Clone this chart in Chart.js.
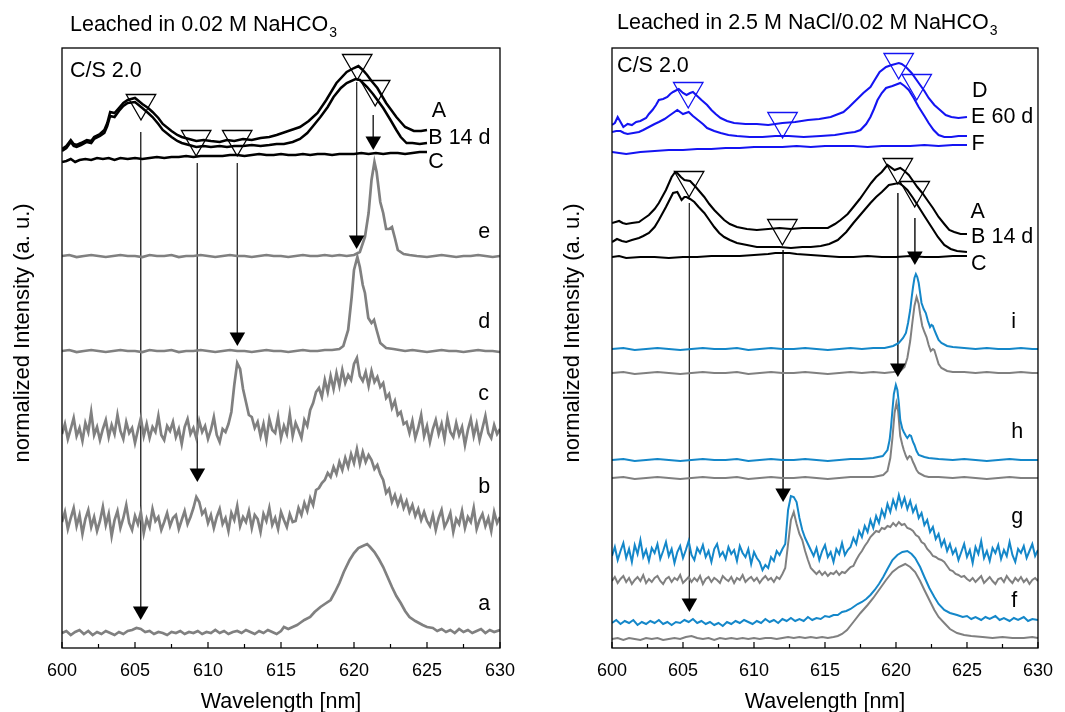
<!DOCTYPE html>
<html>
<head>
<meta charset="utf-8">
<script src="https://cdn.jsdelivr.net/npm/chart.js@4.4.1/dist/chart.umd.min.js"></script>
<style>
  html, body { margin: 0; padding: 0; background: #fff; }
  #wrap { position: relative; width: 1065px; height: 712px; overflow: hidden; }
  canvas { position: absolute; top: 0; }
  #panelLeft { left: 0; }
  #panelRight { left: 532px; }
</style>
</head>
<body>
<div id="wrap">
  <canvas id="panelLeft" width="532" height="712"></canvas>
  <canvas id="panelRight" width="533" height="712"></canvas>
</div>
<script>
// x axis: wavelength in nm, y: stacked normalized intensity (offset units, 0..600)
const majorTicks = [600, 605, 610, 615, 620, 625, 630];
const minorTicks = [602.5, 607.5, 612.5, 617.5, 622.5, 627.5];

// noisy spectra are sampled on a 0.2 nm grid starting at 600 nm
const gridStart = 600;
const gridStep = 0.2;

// ---------- Leached in 0.02 M NaHCO3 ----------
const leftA = [[600,499],[600.3,502],[600.6,508],[600.8,504],[601.0,503],[601.3,505],[601.7,508],[602.0,507],[602.2,511],[602.6,514],[602.9,518],[603.1,525],[603.3,536],[603.6,535],[603.9,540],[604.2,545],[604.5,548],[605.0,550],[605.5,544],[605.9,540],[606.2,536],[606.6,530],[606.9,524],[607.5,517],[607.9,513],[608.2,511],[608.7,509],[609.2,507],[609.7,508],[610.2,507],[610.8,506],[611.3,508],[611.8,507],[612.4,509],[613.0,508],[613.6,510],[614.2,511],[614.7,513],[615.1,515],[615.7,518],[616.3,521],[616.9,527],[617.5,535],[618.1,548],[618.8,565],[619.5,576],[620.0,580],[620.3,582],[620.6,578],[620.9,573],[621.2,567],[621.6,560],[622.2,545],[622.9,531],[623.5,521],[624.1,517],[624.6,517],[625.0,518]];
const leftB = [[600,497],[600.3,500],[600.6,506],[600.8,502],[601.0,501],[601.3,503],[601.7,506],[602.0,505],[602.2,509],[602.6,512],[602.9,515],[603.1,522],[603.3,532],[603.6,531],[603.9,537],[604.2,542],[604.5,545],[605.0,546],[605.5,540],[605.9,535],[606.2,531],[606.6,524],[606.9,518],[607.5,511],[607.9,507],[608.2,505],[608.7,503],[609.2,501],[609.7,502],[610.2,501],[610.8,502],[611.3,501],[611.8,502],[612.4,502],[613.0,503],[613.6,502],[614.2,503],[614.7,504],[615.2,504],[615.8,506],[616.3,509],[616.8,515],[617.2,522],[617.7,531],[618.2,541],[618.6,551],[619.1,560],[619.5,565],[620.1,569],[620.4,568],[620.9,561],[621.3,554],[621.6,548],[622.0,540],[622.5,528],[622.9,518],[623.2,511],[623.6,505],[624.0,505],[624.5,504],[625.0,505]];
const leftC = [[600,486],[600.3,487],[600.6,489],[600.9,486],[601.2,488],[601.6,489],[602,488],[602.4,490],[602.8,489],[603.2,490],[603.6,488],[604,490],[604.5,489],[605,490],[605.5,489],[606,490],[606.5,491],[607,490],[607.5,491],[608,491],[608.5,492],[609,491],[609.5,492],[610,492],[610.5,492],[611,492],[611.5,493],[612,493],[612.5,492],[613,493],[613.5,494],[614,493],[614.5,493],[615,494],[615.5,493],[616,493],[616.5,494],[617,493],[617.5,494],[618,494],[618.5,493],[619,494],[619.5,494],[620,494],[620.5,495],[621,494],[621.5,495],[622,494],[622.5,495],[623,495],[623.5,494],[624,495],[624.5,496],[625,496]];
const leftE = [[600,392],[600.5,393],[601,391],[601.5,392],[602,393],[602.5,392],[603,391],[603.5,392],[604,393],[604.5,392],[605,392],[605.5,391],[606,393],[606.5,392],[607,392],[607.5,393],[608,391],[608.5,392],[609,392],[609.5,393],[610,392],[610.5,391],[611,392],[611.5,393],[612,392],[612.5,392],[613,391],[613.5,392],[614,393],[614.5,392],[615,392],[615.5,391],[616,392],[616.5,393],[617,392],[617.5,392],[618,393],[618.5,392],[619,393],[619.5,392],[620,393],[620.4,396],[620.75,411],[621.0,435],[621.2,468],[621.4,486],[621.55,476],[621.8,446],[622.0,435],[622.2,419],[622.4,419],[622.6,421],[622.8,410],[623.0,398],[623.4,394],[623.8,393],[624.3,392],[625,391],[625.5,392],[626,393],[626.5,392],[627,391],[627.5,392],[628,392],[628.5,393],[629,392],[629.5,391],[630,392]];
const leftD = [[600,297],[600.5,298],[601,296],[601.5,297],[602,298],[602.5,297],[603,296],[603.5,297],[604,298],[604.5,297],[605,297],[605.5,296],[606,298],[606.5,297],[607,297],[607.5,298],[608,296],[608.5,297],[609,297],[609.5,298],[610,297],[610.5,296],[611,297],[611.5,298],[612,297],[612.5,297],[613,296],[613.5,297],[614,298],[614.5,297],[615,297],[615.5,296],[616,297],[616.5,298],[617,297],[617.5,297],[618,298],[618.5,298],[619.0,299],[619.27,302],[619.6,318],[619.84,351],[620.0,378],[620.23,391],[620.4,381],[620.6,363],[620.75,355],[620.98,330],[621.2,325],[621.37,328],[621.55,318],[621.8,305],[622.2,300],[622.7,299],[623.1,298],[623.5,297],[624,298],[624.5,297],[625,296],[625.5,297],[626,298],[626.5,297],[627,297],[627.5,296],[628,297],[628.5,298],[629,297],[629.5,297],[630,296]];
const leftCnoisy = [
  214,224,209,219,230,212,220,207,225,216,236,213,221,208,219,228,211,223,214,233,
  217,209,226,215,220,205,218,230,212,224,210,221,216,232,213,208,222,217,226,211,
  219,204,221,229,214,220,210,227,216,222,209,218,231,213,206,219,216,
  224,236,263,285,279,259,246,233,231,220,
  226,212,224,208,229,218,215,231,210,222,214,234,212,225,218,210,228,222,
  238,245,256,260,251,268,256,272,259,275,262,278,265,273,268,284,290,272,267,276,
  262,277,266,271,261,265,250,254,240,247,233,236,224,226,
  215,227,210,220,233,212,222,206,219,228,214,224,209,230,216,211,225,213,221,203,
  218,229,212,224,208,220,232,215,210,223,214,219
];
const leftBnoisy = [
  126,136,119,130,140,122,133,114,129,138,121,131,117,127,141,123,134,112,128,137,
  120,130,143,125,118,132,124,136,115,129,121,139,127,131,118,126,135,122,130,133,
  119,128,137,124,131,
  140,151,146,134,
  138,125,133,120,131,139,124,130,117,135,128,142,122,131,126,137,120,133,129,116,
  134,127,140,123,130,119,136,128,121,134,126,
  127,140,133,145,137,150,143,158,160,165,168,175,171,181,174,186,178,190,181,194,
  185,199,184,196,186,193,188,179,183,174,168,155,159,146,153,143,151,140,147,136,
  143,132,139,128,136,127,
  122,133,118,130,138,121,127,135,116,129,124,137,120,131,126,140,119,128,134,122,
  130,117,136,125,131
];
const leftAsmall = [[600,15],[600.3,17],[600.6,13],[600.9,16],[601.2,18],[601.5,14],[601.8,17],[602.1,13],[602.4,16],[602.7,14],[603,17],[603.3,15],[603.6,13],[603.9,16],[604.2,14],[604.5,17],[604.8,18],[605.1,20],[605.4,19],[605.7,16],[606,17],[606.3,14],[606.6,16],[606.9,15],[607.2,13],[607.5,16],[607.8,15],[608.1,17],[608.4,14],[608.7,16],[609,15],[609.3,17],[609.6,14],[609.9,16],[610.2,15],[610.5,18],[610.8,15],[611.1,17],[611.4,14],[611.7,16],[612,17],[612.3,15],[612.6,18],[612.9,16],[613.2,14],[613.5,17],[613.8,15],[614.1,18],[614.4,16],[614.7,14],[615.0,17],[615.2,21],[615.5,19],[615.8,21],[616.1,23],[616.3,25],[616.6,28],[617.0,31],[617.3,36],[617.7,41],[618.0,44],[618.4,48],[618.7,56],[619.0,65],[619.3,76],[619.7,88],[620.0,95],[620.3,100],[620.6,102],[620.9,104],[621.1,101],[621.4,96],[621.7,89],[622.0,81],[622.3,71],[622.6,61],[622.9,52],[623.2,45],[623.5,37],[623.8,31],[624.2,27],[624.7,23],[625.0,21],[625.4,20],[625.7,17],[626,19],[626.3,16],[626.6,18],[626.9,15],[627.2,19],[627.5,16],[627.8,18],[628.1,15],[628.4,17],[628.7,19],[629,15],[629.3,18],[629.6,16],[630,18]];

// open markers [nm, level] and arrows [nm, start level, head level]
const leftMarks = [[605.41,545],[609.19,509],[612.0,509],[620.22,585],[621.45,559]];
const leftArrows = [[605.39,516,37],[609.27,485,175],[612.01,485,311],[620.18,566,408],[621.32,533,507]];

// ---------- Leached in 2.5 M NaCl/0.02 M NaHCO3 ----------
const rightD = [[600,523],[600.2,525],[600.4,531],[600.6,526],[600.8,521],[601.1,524],[601.4,523],[601.7,526],[602.0,527],[602.4,530],[602.6,534],[602.85,538],[603.1,543],[603.3,548],[603.6,549],[603.9,551],[604.1,554],[604.3,556],[604.7,559],[605.0,555],[605.25,553],[605.5,555],[605.7,556],[606.0,552],[606.3,548],[606.7,543],[607.0,538],[607.3,534],[607.65,530],[608.1,527],[608.6,525],[609.4,524],[610.2,524],[611.0,523],[612.0,525],[612.9,526],[613.8,528],[614.6,529],[615.4,531],[616.3,536],[616.7,541],[617.2,548],[617.7,555],[618.2,561],[618.5,568],[618.85,576],[619.3,581],[619.7,583],[620.2,585],[620.4,584],[620.7,581],[621.1,575],[621.6,565],[622.0,557],[622.3,550],[622.7,543],[623.1,538],[623.5,533],[623.9,531],[624.4,530],[625.0,531]];
const rightE = [[600,516],[600.3,517],[600.6,517],[600.85,515],[601.1,514],[601.5,515],[601.9,516],[602.2,518],[602.6,521],[603.0,524],[603.3,526],[603.7,529],[604.0,532],[604.3,535],[604.6,538],[605.0,534],[605.4,536],[605.7,532],[606.05,528],[606.4,524],[606.7,520],[607.2,517],[607.65,515],[608.2,513],[608.8,512],[609.7,511],[610.6,511],[611.5,512],[612.45,512],[613.5,511],[614.7,512],[615.7,513],[616.55,515],[617.1,516],[617.5,518],[617.9,524],[618.2,531],[618.45,539],[618.7,548],[619.0,555],[619.3,560],[619.75,562],[620.3,565],[620.6,562],[620.9,558],[621.25,550],[621.6,541],[622.0,532],[622.3,525],[622.65,518],[623.0,513],[623.4,511],[623.9,511],[624.4,512],[625.0,512]];
const rightF = [[600,496],[600.5,495],[601,494],[601.5,495],[602,496],[603,497],[604,498],[605,498],[606,499],[607,499],[608,500],[609,500],[610,501],[611,501],[612,501],[613,502],[614,501],[615,502],[616,502],[617,502],[618,501],[619,502],[620,502],[621,502],[622,503],[623,502],[624,503],[625,503]];
const rightA = [[600,425],[600.25,426],[600.5,427],[600.75,425],[601.0,424],[601.4,425],[601.9,426],[602.2,429],[602.6,433],[603.0,439],[603.3,445],[603.8,458],[604.2,471],[604.45,476],[604.6,475],[604.85,471],[605.1,468],[605.5,467],[605.9,461],[606.2,456],[606.5,451],[606.85,444],[607.2,438],[607.55,433],[607.9,428],[608.3,424],[608.8,421],[609.5,419],[610.2,418],[611.0,419],[611.8,420],[612.6,419],[613.4,420],[614.3,420],[615.2,420],[615.7,424],[616.1,428],[616.6,434],[617.0,441],[617.45,449],[617.9,458],[618.25,465],[618.6,471],[619.0,476],[619.4,483],[619.9,478],[620.3,480],[620.6,477],[620.9,473],[621.2,467],[621.5,461],[621.85,455],[622.2,448],[622.6,440],[623.0,431],[623.4,424],[623.75,418],[624.1,416],[624.55,414],[625.0,414]];
const rightB = [[600,406],[600.35,409],[600.7,407],[601.0,406],[601.4,408],[601.9,410],[602.2,412],[602.6,415],[603.0,421],[603.3,428],[603.8,441],[604.3,455],[604.6,456],[604.9,448],[605.1,451],[605.25,451],[605.5,449],[605.8,446],[606.1,441],[606.5,435],[606.85,428],[607.2,421],[607.55,415],[607.9,411],[608.3,408],[608.8,405],[609.5,403],[610.2,401],[611.0,401],[611.8,401],[612.6,400],[613.4,401],[614.0,401],[614.7,402],[615.3,404],[615.9,408],[616.5,416],[617.0,425],[617.6,435],[618.2,445],[618.6,451],[619.0,456],[619.5,463],[620.2,465],[620.5,462],[620.8,458],[621.2,450],[621.6,441],[622.0,432],[622.5,421],[622.95,411],[623.4,403],[623.85,399],[624.3,397],[625.0,396]];
const rightC = [[600,391],[600.5,392],[601,390],[602,391],[603,391],[604,390],[605,391],[606,391],[607,392],[608,392],[609,392],[610,393],[611,394],[611.5,395],[612,395],[612.5,395],[613,394],[614,393],[615,392],[616,391],[617,391],[618,392],[619,391],[620,391],[621,392],[622,391],[623,391],[624,392],[625,392]];
const rightIblue = [[600,299],[600.8,300],[601.6,298],[602.4,299],[603.2,300],[604,299],[604.8,298],[605.6,299],[606.4,300],[607.2,299],[608,299],[608.8,300],[609.6,298],[610.4,299],[611.2,300],[612,299],[612.8,299],[613.6,300],[614.4,299],[615.2,298],[616,299],[616.8,300],[617.6,299],[618.4,300],[619.2,300],[619.8,302],[620.2,305],[620.5,310],[620.7,315],[620.85,325],[621.0,338],[621.1,350],[621.2,361],[621.3,370],[621.4,374],[621.5,371],[621.6,365],[621.7,355],[621.8,345],[621.95,339],[622.1,335],[622.25,327],[622.4,321],[622.5,323],[622.6,322],[622.7,318],[622.85,313],[623.0,308],[623.2,305],[623.6,302],[624.0,301],[624.8,300],[625.6,299],[626.4,300],[627.2,299],[628,299],[628.8,300],[629.6,299],[630,299]];
const rightIgray = [[600,275],[600.8,276],[601.6,274],[602.4,275],[603.2,276],[604,275],[604.8,274],[605.6,275],[606.4,276],[607.2,275],[608,275],[608.8,276],[609.6,274],[610.4,275],[611.2,276],[612,275],[612.8,275],[613.6,276],[614.4,275],[615.2,274],[616,275],[616.8,276],[617.6,275],[618.4,276],[619.2,275],[619.8,276],[620.3,277],[620.6,281],[620.8,290],[621.0,307],[621.15,325],[621.3,342],[621.45,351],[621.6,344],[621.7,334],[621.85,322],[622.0,316],[622.15,311],[622.3,303],[622.45,297],[622.6,299],[622.7,298],[622.85,291],[623.0,284],[623.2,280],[623.6,277],[624.0,276],[624.8,276],[625.6,275],[626.4,276],[627.2,275],[628,275],[628.8,276],[629.6,275],[630,275]];
const rightHblue = [[600,188],[600.8,189],[601.6,187],[602.4,188],[603.2,189],[604,188],[604.8,187],[605.6,188],[606.4,189],[607.2,188],[608,188],[608.8,189],[609.6,187],[610.4,188],[611.2,189],[612,188],[612.8,188],[613.6,189],[614.4,188],[615.2,187],[616,188],[616.8,189],[617.6,189],[618.4,190],[619.07,192],[619.4,198],[619.55,208],[619.65,221],[619.75,238],[619.85,254],[619.99,263],[620.1,258],[620.2,245],[620.3,228],[620.45,219],[620.55,216],[620.7,212],[620.8,210],[620.95,213],[621.06,212],[621.2,206],[621.3,203],[621.45,197],[621.6,193],[622.0,191],[622.3,190],[623,189],[624,188],[624.8,189],[625.6,188],[626.4,187],[627.2,188],[628,189],[628.8,188],[629.6,188],[630,188]];
const rightHgray = [[600,170],[600.8,171],[601.6,169],[602.4,170],[603.2,171],[604,170],[604.8,169],[605.6,170],[606.4,171],[607.2,170],[608,170],[608.8,171],[609.6,169],[610.4,170],[611.2,171],[612,170],[612.8,170],[613.6,171],[614.4,170],[615.2,169],[616,170],[616.8,171],[617.6,171],[618.4,171],[619.1,173],[619.4,177],[619.6,190],[619.75,210],[619.9,235],[620.03,245],[620.15,237],[620.3,212],[620.45,203],[620.55,198],[620.7,192],[620.8,189],[620.95,192],[621.06,191],[621.2,186],[621.3,183],[621.45,178],[621.6,175],[622.0,172],[622.3,171],[623,171],[624,170],[624.8,171],[625.6,170],[626.4,169],[627.2,170],[628,171],[628.8,170],[629.6,170],[630,170]];
const rightGblue = [
  92,101,88,97,105,90,99,86,103,94,108,91,98,87,100,95,104,89,97,106,
  92,99,85,96,102,90,98,107,93,88,100,95,103,91,97,86,99,104,92,96,
  89,101,94,98,87,102,95,91,99,84,96,90,86,78,83,80,91,87,97,93,99,
  104,138,152,151,146,130,118,110,104,98,
  92,100,88,97,103,91,96,86,99,94,105,93,98,101,
  110,104,117,111,122,116,128,120,132,125,138,131,144,136,148,140,153,142,150,139,
  147,136,142,130,135,123,128,116,121,109,114,102,108,97,104,94,
  99,88,96,104,91,98,85,101,94,107,90,97,87,100,95,103,89,98,92,106,
  93,86,99,95,102,90,97,104,92,98
];
const rightGgray = [
  67,71,65,69,72,66,70,64,68,71,67,73,65,69,66,70,72,67,64,69,
  71,66,70,68,73,65,68,71,66,70,67,72,64,69,71,66,70,68,65,72,
  69,67,71,65,70,68,73,66,69,71,67,70,65,69,72,68,70,66,71,69,74,
  80,104,128,136,124,114,108,97,88,80,77,
  74,77,73,76,72,75,74,77,73,76,75,78,81,
  82,88,93,97,102,106,111,114,117,116,120,119,122,121,125,122,126,123,124,120,
  119,117,113,111,106,104,99,96,92,91,89,88,86,82,78,77,74,73,71,72,69,
  67,70,66,69,72,65,68,71,67,64,69,70,66,72,68,65,70,67,71,66,
  69,64,68,70,67
];
const rightFblue = [[600,25],[600.3,28],[600.6,24],[600.9,27],[601.2,25],[601.5,28],[601.8,23],[602.1,26],[602.4,24],[602.7,27],[603,25],[603.3,28],[603.6,24],[603.9,26],[604.2,23],[604.5,26],[604.8,25],[605.1,28],[605.4,26],[605.7,29],[606,25],[606.3,27],[606.6,24],[606.9,26],[607.2,23],[607.5,25],[607.8,22],[608.1,26],[608.4,24],[608.7,27],[609,25],[609.3,28],[609.6,26],[609.9,24],[610.2,27],[610.5,25],[610.8,29],[611.1,26],[611.4,28],[611.7,25],[612,29],[612.3,27],[612.6,30],[612.9,27],[613.2,29],[613.5,27],[613.8,31],[614.1,28],[614.4,30],[614.7,29],[615.0,32],[615.3,31],[615.6,33],[615.9,33],[616.2,36],[616.5,37],[616.8,39],[617.0,41],[617.3,44],[617.6,46],[617.9,49],[618.2,53],[618.5,58],[618.8,64],[619.1,71],[619.4,79],[619.75,88],[620.1,93],[620.45,96],[620.8,97],[621.1,94],[621.35,90],[621.7,81],[622.0,71],[622.35,60],[622.7,51],[623.0,44],[623.4,38],[623.8,35],[624.3,33],[624.7,31],[625.0,32],[625.3,29],[625.6,31],[626.0,28],[626.3,31],[626.6,29],[627.0,32],[627.3,28],[627.6,30],[628.0,27],[628.3,30],[628.6,28],[629.0,31],[629.3,27],[629.6,29],[630,28]];
const rightFgray = [[600,9],[600.4,10],[600.8,8],[601.2,10],[601.6,9],[602,8],[602.4,10],[602.8,9],[603.2,10],[603.6,8],[604,9],[604.4,10],[604.8,9],[605.2,11],[605.6,12],[606,10],[606.4,9],[606.8,10],[607.2,8],[607.6,10],[608,9],[608.4,10],[608.8,9],[609.2,10],[609.6,9],[610,10],[610.4,9],[610.8,10],[611.2,10],[611.6,9],[612,10],[612.4,11],[612.8,10],[613.2,11],[613.6,10],[614,11],[614.4,10],[614.8,11],[615.2,10],[615.6,11],[615.9,12],[616.2,14],[616.55,18],[617.0,26],[617.5,35],[618.0,43],[618.4,50],[618.8,58],[619.3,68],[619.75,76],[620.2,81],[620.65,84],[621.0,81],[621.35,76],[621.7,67],[622.0,58],[622.35,48],[622.7,38],[623.0,31],[623.4,25],[623.8,19],[624.3,15],[624.8,13],[625.3,12],[626.1,11],[626.8,10],[627.5,11],[628.2,10],[629,10],[629.6,11],[630,10]];

const rightBlueMarks = [[605.37,557],[612.01,527],[620.19,586],[621.46,565]];
const rightBlackMarks = [[605.43,468],[612.0,420],[620.13,481],[621.32,458]];
const rightArrows = [[605.45,445,45],[612.05,398,155],[620.13,455,280],[621.33,430,392]];

const FONT = '"Liberation Sans", Arial, Helvetica, sans-serif';
const GRAY = '#808080';
const BLACK = '#000000';
const DEEP_BLUE = '#1414f2';
const SKY_BLUE = '#1487c9';

const pairs = arr => arr.map(([x, y]) => ({x, y}));
const onGrid = arr => arr.map((y, i) => ({x: +(gridStart + i * gridStep).toFixed(1), y}));

function trace(data, color, width) {
  return {type: 'line', data, borderColor: color, borderWidth: width,
    pointRadius: 0, fill: false, tension: 0, order: 2};
}

function openMarks(list, color) {
  return {type: 'scatter', data: pairs(list), pointStyle: 'triangle', rotation: 180,
    pointRadius: 17, borderColor: color, borderWidth: 1.3,
    backgroundColor: 'rgba(0,0,0,0)', order: 1};
}

function arrowSets(list) {
  const sets = list.map(([nm, from, head]) => ({
    type: 'line', data: [{x: nm, y: from}, {x: nm, y: head}],
    borderColor: '#333', borderWidth: 1, pointRadius: 0, order: 3
  }));
  sets.push({type: 'scatter', data: list.map(([nm, , head]) => ({x: nm, y: head})),
    pointStyle: 'triangle', rotation: 180, pointRadius: 9,
    backgroundColor: '#000', borderColor: '#000', borderWidth: 0, order: 0});
  return sets;
}

// frame, inward ticks and all the text drawn on top of the plot
const panelDecor = {
  id: 'panelDecor',
  afterDraw(chart, args, o) {
    const {ctx, chartArea: a, scales: {x, y}} = chart;
    ctx.save();
    ctx.strokeStyle = '#000';
    ctx.lineWidth = 1.3;
    ctx.strokeRect(a.left, a.top, a.right - a.left, a.bottom - a.top);
    ctx.lineWidth = 1.2;
    majorTicks.concat(minorTicks).forEach(v => {
      const px = x.getPixelForValue(v);
      const len = majorTicks.includes(v) ? 6 : 4;
      ctx.beginPath();
      ctx.moveTo(px, a.bottom);
      ctx.lineTo(px, a.bottom - len);
      ctx.stroke();
    });

    ctx.fillStyle = '#000';
    ctx.textAlign = 'left';
    ctx.textBaseline = 'alphabetic';
    ctx.font = '21.5px ' + FONT;
    o.labels.forEach(([text, nm, level]) => {
      ctx.fillText(text, x.getPixelForValue(nm), y.getPixelForValue(level));
    });

    // panel title with subscript
    const tx = a.left + o.titleDx;
    ctx.fillText(o.title, tx, o.titleY);
    const w = ctx.measureText(o.title).width;
    ctx.font = '14px ' + FONT;
    ctx.fillText('3', tx + w + 1, o.titleY + 6.5);

    // axis titles
    ctx.font = '21.5px ' + FONT;
    ctx.textAlign = 'center';
    ctx.fillText('Wavelength [nm]', (a.left + a.right) / 2, 708);
    ctx.font = '22px ' + FONT;
    ctx.translate(o.yTitleX, 333);
    ctx.rotate(-Math.PI / 2);
    ctx.fillText('normalized Intensity (a. u.)', 0, 0);
    ctx.restore();
  }
};

function makePanel(id, datasets, padding, decor) {
  return new Chart(document.getElementById(id), {
    data: {datasets},
    plugins: [panelDecor],
    options: {
      responsive: false,
      animation: false,
      events: [],
      layout: {padding},
      plugins: {legend: {display: false}, tooltip: {enabled: false}, panelDecor: decor},
      scales: {
        x: {
          type: 'linear', min: 600, max: 630,
          afterBuildTicks: s => { s.ticks = majorTicks.map(v => ({value: v})); },
          afterFit: s => { s.height = 64; },
          grid: {display: false, drawTicks: false},
          border: {display: false},
          ticks: {padding: 12, color: '#000', font: {size: 18, family: FONT},
            maxRotation: 0, autoSkip: false}
        },
        y: {type: 'linear', min: 0, max: 600, display: false}
      }
    }
  });
}

makePanel('panelLeft', [
  trace(pairs(leftA), BLACK, 2.5),
  trace(pairs(leftB), BLACK, 2.5),
  trace(pairs(leftC), BLACK, 2.5),
  trace(pairs(leftE), GRAY, 2.7),
  trace(pairs(leftD), GRAY, 2.7),
  trace(onGrid(leftCnoisy), GRAY, 2.7),
  trace(onGrid(leftBnoisy), GRAY, 2.7),
  trace(pairs(leftAsmall), GRAY, 2.7),
  openMarks(leftMarks, BLACK),
  ...arrowSets(leftArrows)
], {top: 48, left: 62, right: 32, bottom: 0}, {
  title: 'Leached in 0.02 M NaHCO', titleDx: 8, titleY: 30.5, yTitleX: 29,
  labels: [['C/S 2.0', 600.55, 571.5], ['A', 625.32, 531], ['B 14 d', 625.09, 504.5],
    ['C', 625.09, 480], ['e', 628.51, 410], ['d', 628.51, 320], ['c', 628.51, 248],
    ['b', 628.51, 155], ['a', 628.51, 38]]
});

makePanel('panelRight', [
  trace(pairs(rightD), DEEP_BLUE, 2.1),
  trace(pairs(rightE), DEEP_BLUE, 2.1),
  trace(pairs(rightF), DEEP_BLUE, 2.1),
  trace(pairs(rightA), BLACK, 2.1),
  trace(pairs(rightB), BLACK, 2.1),
  trace(pairs(rightC), BLACK, 2.1),
  trace(pairs(rightIblue), SKY_BLUE, 2),
  trace(pairs(rightIgray), GRAY, 2),
  trace(pairs(rightHblue), SKY_BLUE, 2),
  trace(pairs(rightHgray), GRAY, 2),
  trace(onGrid(rightGblue), SKY_BLUE, 2),
  trace(onGrid(rightGgray), GRAY, 2),
  trace(pairs(rightFblue), SKY_BLUE, 2),
  trace(pairs(rightFgray), GRAY, 2),
  openMarks(rightBlueMarks, DEEP_BLUE),
  openMarks(rightBlackMarks, BLACK),
  ...arrowSets(rightArrows)
], {top: 48, left: 80, right: 16, bottom: 0}, {
  title: 'Leached in 2.5 M NaCl/0.02 M NaHCO', titleDx: 5, titleY: 28.5, yTitleX: 46.6,
  labels: [['C/S 2.0', 600.36, 576.5], ['D', 625.36, 551], ['E 60 d', 625.29, 525],
    ['F', 625.31, 498], ['A', 625.24, 430], ['B 14 d', 625.29, 405], ['C', 625.29, 378],
    ['i', 628.12, 320], ['h', 628.12, 210], ['g', 628.12, 125], ['f', 628.12, 41]]
});
</script>
</body>
</html>
